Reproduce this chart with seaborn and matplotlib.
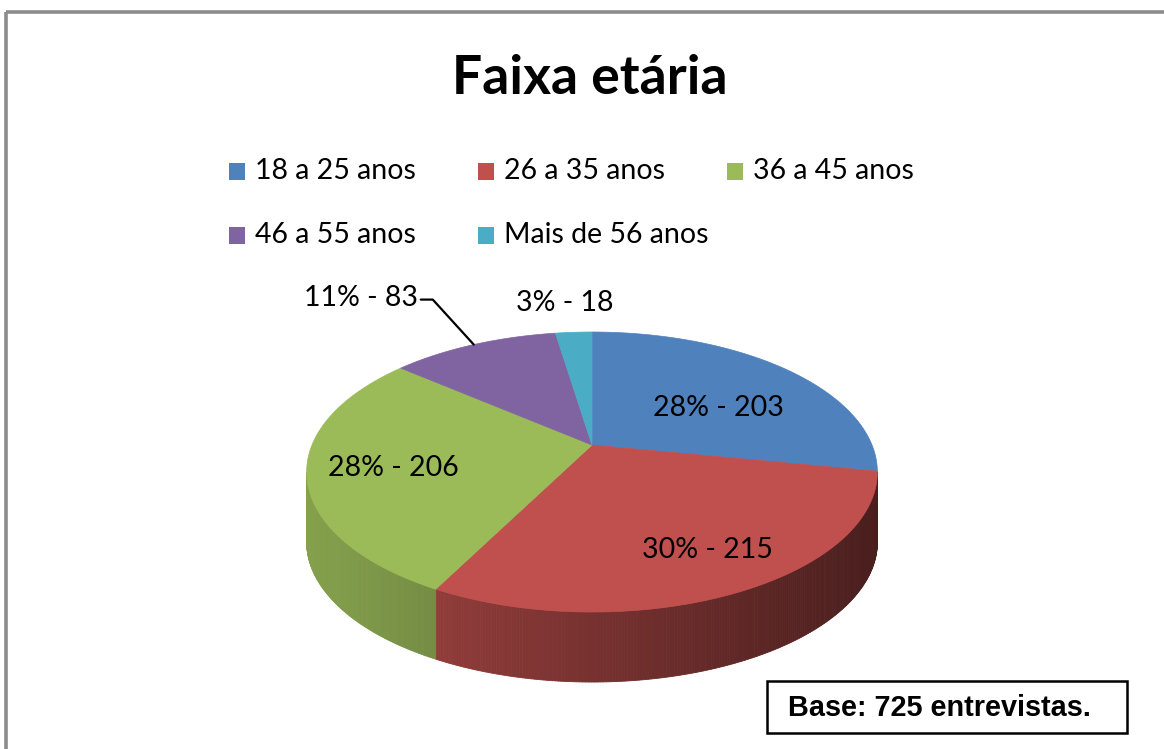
import numpy as np
import matplotlib
matplotlib.use("Agg")
import matplotlib.pyplot as plt
from matplotlib.patches import Polygon, Rectangle
import seaborn as sns

# ---------------- data ----------------
title = "Faixa etária"
categories = ["18 a 25 anos", "26 a 35 anos", "36 a 45 anos", "46 a 55 anos", "Mais de 56 anos"]
counts = [203, 215, 206, 83, 18]
percents = [28, 30, 28, 11, 3]
colors_hex = ["#4F81BD", "#C0504D", "#9BBB59", "#8064A2", "#4BACC6"]
base_note = "Base: 725 entrevistas."

sns.set_theme(style="white")
palette = sns.color_palette(colors_hex)
plt.rcParams["font.family"] = ["Lato", "DejaVu Sans"]

W, H = 1164, 749
fig = plt.figure(figsize=(W / 100, H / 100), dpi=100)
ax = fig.add_axes([0, 0, 1, 1])
ax.set_xlim(0, W)
ax.set_ylim(H, 0)
ax.axis("off")

# ---------------- frame ----------------
ax.plot([5.5, W], [12, 12], color="#8c8c8c", lw=2.6, solid_capstyle="butt")
ax.plot([5.5, 5.5], [12, H], color="#8c8c8c", lw=2.6, solid_capstyle="butt")

# ---------------- title ----------------
ax.text(590, 78, title, ha="center", va="center", fontsize=38.5, fontweight="bold", color="black")

# ---------------- legend (row-major, 3 columns) ----------------
leg_x0, leg_dx, leg_y0, leg_dy = 229, 249, 171, 64
for i, (lab, col) in enumerate(zip(categories, palette)):
    r, c = divmod(i, 3)
    x = leg_x0 + c * leg_dx
    y = leg_y0 + r * leg_dy
    ax.add_patch(Rectangle((x, y - 8.5), 16, 17, facecolor=col, edgecolor="none"))
    ax.text(x + 26, y, lab, ha="left", va="center", fontsize=20.5, color="black")

# ---------------- 3D pie geometry (perspective projection) ----------------
CX, CY = 592, 445       # apex position
A, B, K = 280, 134.8, 0.193
DEPTH = 70

def proj(phi_deg, r=1.0):
    ph = np.radians(phi_deg)
    u, v = r * np.cos(ph), r * np.sin(ph)
    w = 1 + K * v
    return CX + A * u / w, CY - B * v / w

total = sum(counts)
fr = np.array(counts) / total
starts = 90 - 360 * np.concatenate([[0], np.cumsum(fr)[:-1]])
ends = starts - 360 * fr
mids = (starts + ends) / 2

# visible front side between extreme silhouette points (sin = -K)
edge_ang = np.degrees(np.arcsin(K))
vis_lo, vis_hi = -180 + edge_ang, -edge_ang

xmin_sil = CX - A * 1.02
for s, e, col in zip(starts, ends, palette):
    lo, hi = max(e, vis_lo), min(s, vis_hi)
    if hi - lo < 0.3:
        continue
    angs = np.linspace(hi, lo, int((hi - lo) / 0.5) + 2)
    for a1, a2 in zip(angs[:-1], angs[1:]):
        x1, y1 = proj(a1)
        x2, y2 = proj(a2)
        t = ((x1 + x2) / 2 - xmin_sil) / (2 * A * 1.02)
        f = 0.86 - 0.48 * t
        shade = tuple(np.clip(np.array(col) * f, 0, 1))
        ax.add_patch(Polygon([(x1, y1), (x2, y2), (x2, y2 + DEPTH), (x1, y1 + DEPTH)],
                             closed=True, facecolor=shade, edgecolor=shade, lw=0.6))

# top faces
for s, e, col in zip(starts, ends, palette):
    angs = np.linspace(s, e, max(int(abs(s - e)), 2) + 1)
    pts = [(CX, CY)] + [proj(a) for a in angs]
    ax.add_patch(Polygon(pts, closed=True, facecolor=col, edgecolor=col, lw=0.5))

# ---------------- data labels ----------------
labels = [f"{p}% - {c}" for p, c in zip(percents, counts)]
label_fs = 20.5
inside_r = [0.62, 0.72, 0.72]
nudge = [(2, 12), (15, 5), (5, 3)]
for i in range(3):
    x, y = proj(mids[i], inside_r[i])
    ax.text(x + nudge[i][0], y + nudge[i][1], labels[i], ha="center", va="center",
            fontsize=label_fs, color="black")

# purple: outside with leader line
ex, ey = proj(mids[3])
elx, ely = ex - 41, ey - 45
ax.plot([elx - 12, elx, ex], [ely, ely, ey], color="black", lw=1.6)
ax.text(elx - 15, ely - 2, labels[3], ha="right", va="center", fontsize=label_fs, color="black")

# cyan: outside above
cx_, cy_ = proj(mids[4])
ax.text(cx_ - 9, cy_ - 29, labels[4], ha="center", va="center", fontsize=label_fs, color="black")

# ---------------- base note box ----------------
ax.add_patch(Rectangle((767, 681), 360, 52, facecolor="white", edgecolor="black", lw=1.8))
ax.text(788, 708, base_note, ha="left", va="center", fontsize=20.8, fontweight="bold",
        family=["Liberation Sans", "DejaVu Sans"], color="black")

fig.savefig("out.png", dpi=100)
